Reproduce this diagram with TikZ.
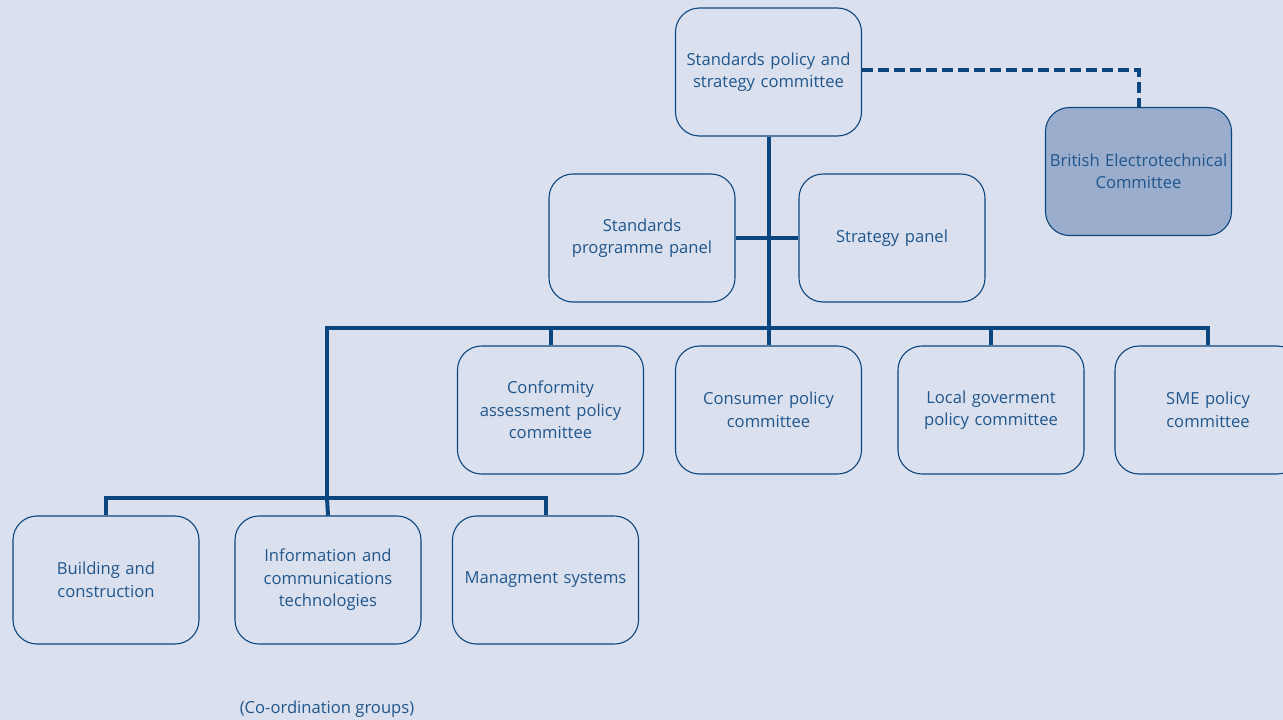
\documentclass[tikz,border=0pt]{standalone}
\usepackage{fontspec}
\setmainfont{Open Sans}
\definecolor{bgc}{RGB}{218,224,237}
\definecolor{linec}{RGB}{12,70,126}
\definecolor{txtc}{RGB}{32,86,140}
\definecolor{becfill}{RGB}{155,173,204}
\tikzset{
  box/.style={draw=linec, line width=1.1pt, rounded corners=24pt,
    minimum width=186pt, minimum height=128pt, text width=186pt,
    align=center, text=txtc, font=\fontsize{16.6}{22.5}\selectfont, inner sep=0pt},
  conn/.style={draw=linec, line width=4pt},
  dconn/.style={draw=linec, line width=4pt, dash pattern=on 11pt off 5pt}
}
\begin{document}
\begin{tikzpicture}[x=1pt,y=-1pt]
\fill[bgc] (0,0) rectangle (1283,720);
\useasboundingbox (0,0) rectangle (1283,720);
\clip (0,0) rectangle (1283,720);
% nodes
\node[box] (top) at (768.5,72) {Standards policy and\\strategy committee};
\node[box, fill=becfill] (bec) at (1138.5,171.5) {British Electrotechnical\\Committee};
\node[box] (spp) at (642,238) {Standards\\programme panel};
\node[box] (sp) at (892,238) {Strategy panel};
\node[box] (conf) at (550.5,410) {Conformity\\assessment policy\\committee};
\node[box] (cons) at (768.5,410) {Consumer policy\\committee};
\node[box] (loc) at (991,410) {Local goverment\\policy committee};
\node[box] (sme) at (1208,410) {SME policy\\committee};
\node[box] (build) at (106,580) {Building and\\construction};
\node[box] (ict) at (328,580) {Information and\\communications\\technologies};
\node[box] (mgmt) at (545.5,580) {Managment systems};
\node[text=txtc, font=\fontsize{16.6}{22.5}\selectfont] (cog) at (327,709) {(Co-ordination groups)};
% bus coordinates
\coordinate (busL) at (327,328);
\coordinate (busR) at (1208,328);
\coordinate (bus2) at (327,498);
\coordinate (bus2L) at (106,498);
\coordinate (bus2R) at (545.5,498);
\coordinate (dash) at (861,70);
% connectors
\draw[dconn] (top.east |- dash) -| (bec.north);
\draw[conn] (top.south) -- (cons.north);
\draw[conn] (spp.east) -- (sp.west);
\draw[conn, line cap=rect] (busL) -- (busR);
\draw[conn] (conf.north |- busL) -- (conf.north);
\draw[conn] (loc.north |- busL) -- (loc.north);
\draw[conn] (busR) -- (sme.north);
\draw[conn] (busL) -- (bus2);
\draw[conn, line cap=rect] (bus2L) -- (bus2R);
\draw[conn] (bus2L) -- (build.north);
\draw[conn] (bus2) -- (ict.north);
\draw[conn] (bus2R) -- (mgmt.north);
\end{tikzpicture}
\end{document}
